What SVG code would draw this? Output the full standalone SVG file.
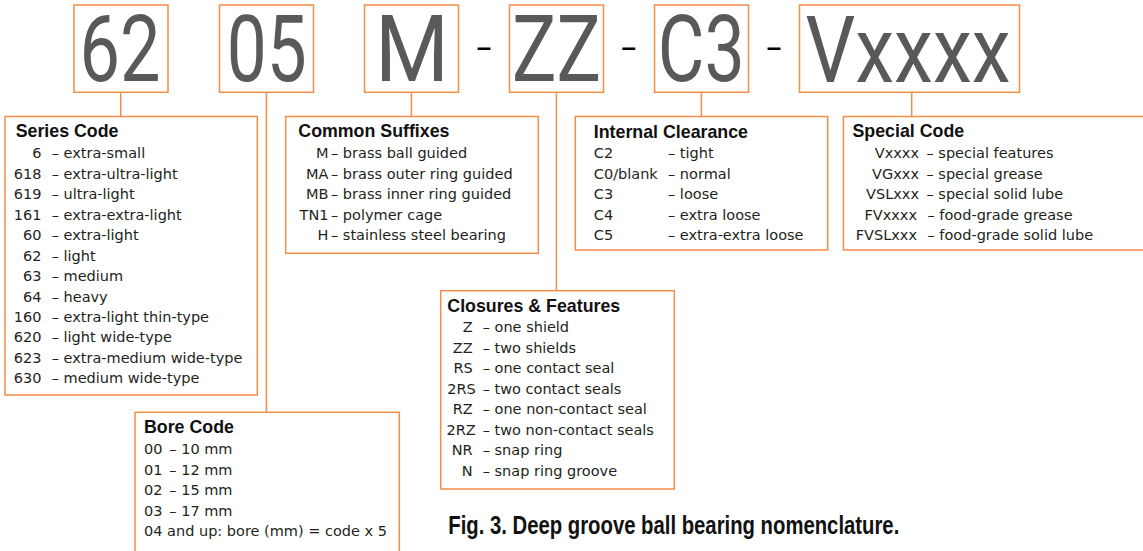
<svg xmlns="http://www.w3.org/2000/svg" width="1143" height="551" viewBox="0 0 1143 551">
<style>
  .box { fill: #ffffff; stroke: #F68D45; stroke-width: 1.5; }
  .conn line { stroke: #F68D45; stroke-width: 1.5; }
  .big { font-family: Roboto, "Liberation Sans", sans-serif; font-size: 92px; fill: #58595B; text-anchor: middle; }
  .sep { font-family: "Liberation Sans", Arial, sans-serif; font-size: 26px; font-weight: bold; fill: #000000; }
  .title { font-family: "Liberation Sans", Arial, sans-serif; font-size: 17.8px; font-weight: bold; fill: #111111; }
  .t { font-family: "DejaVu Sans", "Liberation Sans", sans-serif; font-size: 14.5px; fill: #231F20; }
  .r { text-anchor: end; }
  .cap { font-family: "Liberation Sans", Arial, sans-serif; font-size: 25px; font-weight: bold; fill: #111111; }
</style>
<rect width="1143" height="551" fill="#ffffff"/>

<g id="connectors" class="conn">
  <line x1="120.7" y1="92.3" x2="120.7" y2="116.5"/>
  <line x1="266.4" y1="92.3" x2="266.4" y2="412.3"/>
  <line x1="411.4" y1="92.3" x2="411.4" y2="116.5"/>
  <line x1="556.4" y1="92.3" x2="556.4" y2="290.7"/>
  <line x1="701.4" y1="92.3" x2="701.4" y2="116.5"/>
  <line x1="911.7" y1="92.3" x2="911.7" y2="116.5"/>
</g>

<g id="code-62">
  <rect class="box" x="74" y="5" width="94" height="87.3"/>
  <text class="big" x="120" y="81" textLength="81" lengthAdjust="spacingAndGlyphs">62</text>
</g>
<g id="code-05">
  <rect class="box" x="219.5" y="5" width="94" height="87.3"/>
  <text class="big" x="266.7" y="81" textLength="80" lengthAdjust="spacingAndGlyphs">05</text>
</g>
<g id="code-M">
  <rect class="box" x="364.5" y="5" width="94" height="87.3"/>
  <text class="big" x="412" y="81" textLength="74" lengthAdjust="spacingAndGlyphs">M</text>
</g>
<text class="sep" x="476.7" y="55.5">–</text>
<g id="code-ZZ">
  <rect class="box" x="509.5" y="5" width="94" height="87.3"/>
  <text class="big" x="556.5" y="81" textLength="89" lengthAdjust="spacingAndGlyphs">ZZ</text>
</g>
<text class="sep" x="621.5" y="55.5">–</text>
<g id="code-C3">
  <rect class="box" x="654.5" y="5" width="94" height="87.3"/>
  <text class="big" x="701.3" y="81" textLength="87" lengthAdjust="spacingAndGlyphs">C3</text>
</g>
<text class="sep" x="766.8" y="55.5">–</text>
<g id="code-Vxxxx">
  <rect class="box" x="799.5" y="5" width="220" height="87.3"/>
  <text class="big" x="908" y="81.5" textLength="205" lengthAdjust="spacingAndGlyphs">Vxxxx</text>
</g>

<g id="series-code">
  <rect class="box" x="5" y="116.5" width="252.3" height="278.5"/>
  <text class="title" x="15.7" y="137.3">Series Code</text>
  <g class="t">
    <text class="r" x="41.5" y="158.3">6</text><text x="51.7" y="158.3">– extra-small</text>
    <text class="r" x="41.5" y="178.8">618</text><text x="51.7" y="178.8">– extra-ultra-light</text>
    <text class="r" x="41.5" y="199.2">619</text><text x="51.7" y="199.2">– ultra-light</text>
    <text class="r" x="41.5" y="219.7">161</text><text x="51.7" y="219.7">– extra-extra-light</text>
    <text class="r" x="41.5" y="240.1">60</text><text x="51.7" y="240.1">– extra-light</text>
    <text class="r" x="41.5" y="260.6">62</text><text x="51.7" y="260.6">– light</text>
    <text class="r" x="41.5" y="281">63</text><text x="51.7" y="281">– medium</text>
    <text class="r" x="41.5" y="301.5">64</text><text x="51.7" y="301.5">– heavy</text>
    <text class="r" x="41.5" y="322">160</text><text x="51.7" y="322">– extra-light thin-type</text>
    <text class="r" x="41.5" y="342.4">620</text><text x="51.7" y="342.4">– light wide-type</text>
    <text class="r" x="41.5" y="362.9">623</text><text x="51.7" y="362.9">– extra-medium wide-type</text>
    <text class="r" x="41.5" y="383.3">630</text><text x="51.7" y="383.3">– medium wide-type</text>
  </g>
</g>

<g id="bore-code">
  <rect class="box" x="135" y="412.3" width="264.3" height="160"/>
  <text class="title" x="144" y="433.3">Bore Code</text>
  <g class="t">
    <text x="144" y="454">00</text><text x="169.3" y="454">– 10 mm</text>
    <text x="144" y="474.6">01</text><text x="169.3" y="474.6">– 12 mm</text>
    <text x="144" y="495.1">02</text><text x="169.3" y="495.1">– 15 mm</text>
    <text x="144" y="515.6">03</text><text x="169.3" y="515.6">– 17 mm</text>
    <text x="144" y="536">04 and up: bore (mm) = code x 5</text>
  </g>
</g>

<g id="common-suffixes">
  <rect class="box" x="285.7" y="116.5" width="252.6" height="136.8"/>
  <text class="title" x="298.3" y="136.7">Common Suffixes</text>
  <g class="t">
    <text class="r" x="328.5" y="158.3">M</text><text x="331" y="158.3">– brass ball guided</text>
    <text class="r" x="328.5" y="178.8">MA</text><text x="331" y="178.8">– brass outer ring guided</text>
    <text class="r" x="328.5" y="199.2">MB</text><text x="331" y="199.2">– brass inner ring guided</text>
    <text class="r" x="328.5" y="219.7">TN1</text><text x="331" y="219.7">– polymer cage</text>
    <text class="r" x="328.5" y="240.1">H</text><text x="331" y="240.1">– stainless steel bearing</text>
  </g>
</g>

<g id="closures-features">
  <rect class="box" x="440.7" y="290.7" width="233.6" height="198.3"/>
  <text class="title" x="447.3" y="311.7">Closures &amp; Features</text>
  <g class="t">
    <text class="r" x="472.7" y="332.3">Z</text><text x="482.7" y="332.3">– one shield</text>
    <text class="r" x="472.7" y="352.8">ZZ</text><text x="482.7" y="352.8">– two shields</text>
    <text class="r" x="472.7" y="373.2">RS</text><text x="482.7" y="373.2">– one contact seal</text>
    <text class="r" x="475.7" y="393.7">2RS</text><text x="482.7" y="393.7">– two contact seals</text>
    <text class="r" x="472.7" y="414.1">RZ</text><text x="482.7" y="414.1">– one non-contact seal</text>
    <text class="r" x="475.7" y="434.6">2RZ</text><text x="482.7" y="434.6">– two non-contact seals</text>
    <text class="r" x="472.7" y="455">NR</text><text x="482.7" y="455">– snap ring</text>
    <text class="r" x="472.7" y="475.5">N</text><text x="482.7" y="475.5">– snap ring groove</text>
  </g>
</g>

<g id="internal-clearance">
  <rect class="box" x="575.3" y="116.5" width="252.4" height="133.5"/>
  <text class="title" x="593.8" y="137.8">Internal Clearance</text>
  <g class="t">
    <text x="593.8" y="158.3">C2</text><text x="668" y="158.3">– tight</text>
    <text x="593.8" y="178.8">C0/blank</text><text x="668" y="178.8">– normal</text>
    <text x="593.8" y="199.2">C3</text><text x="668" y="199.2">– loose</text>
    <text x="593.8" y="219.7">C4</text><text x="668" y="219.7">– extra loose</text>
    <text x="593.8" y="240.1">C5</text><text x="668" y="240.1">– extra-extra loose</text>
  </g>
</g>

<g id="special-code">
  <rect class="box" x="843.4" y="116.5" width="310" height="133.5"/>
  <text class="title" x="852.5" y="136.7">Special Code</text>
  <g class="t">
    <text class="r" x="919" y="158.3">Vxxxx</text><text x="926.5" y="158.3">– special features</text>
    <text class="r" x="919" y="178.8">VGxxx</text><text x="926.5" y="178.8">– special grease</text>
    <text class="r" x="919" y="199.2">VSLxxx</text><text x="926.5" y="199.2">– special solid lube</text>
    <text class="r" x="917" y="219.7">FVxxxx</text><text x="927.5" y="219.7">– food-grade grease</text>
    <text class="r" x="917" y="240.1">FVSLxxx</text><text x="927.5" y="240.1">– food-grade solid lube</text>
  </g>
</g>

<text class="cap" x="448.3" y="534.3" textLength="451" lengthAdjust="spacingAndGlyphs">Fig. 3. Deep groove ball bearing nomenclature.</text>
</svg>
